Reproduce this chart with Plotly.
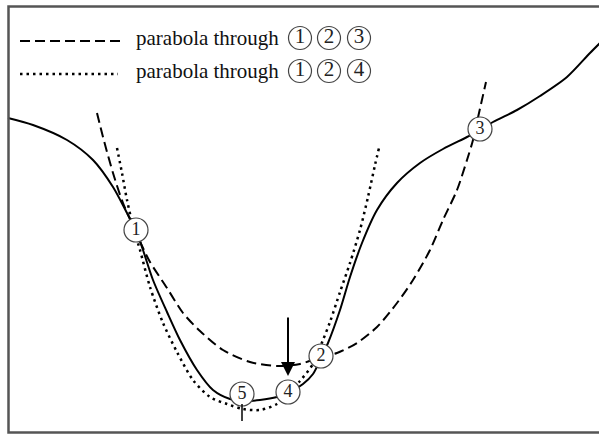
import plotly.graph_objects as go

# Function being minimised (solid curve), sampled along x
curve_x = [8, 33, 67, 93, 113, 127, 136, 143, 153, 167, 180, 197, 213, 230, 245, 260, 277,
           290, 303, 313, 321, 328, 340, 350, 362, 377, 397, 420, 443, 467, 480, 493, 517,
           540, 567, 590, 600]
curve_y = [316, 309, 294, 274, 247, 221, 204, 184, 154, 122, 94, 64, 44, 35, 33, 34, 37,
           42, 50, 60, 76, 91, 124, 157, 191, 224, 251, 271, 285, 297, 304, 312, 324,
           338, 357, 381, 391]

# Parabola through points 1, 2, 3 (dashed)
para123_x = [97, 103, 113, 123, 143, 150, 167, 183, 200, 223, 250, 277, 300, 321, 337, 357,
             377, 397, 413, 430, 443, 457, 467, 473, 479, 486]
para123_y = [321, 297, 261, 231, 186, 172, 146, 121, 103, 84, 72, 68, 70, 77, 81, 91,
             107, 131, 154, 184, 214, 244, 274, 294, 321, 352]

# Parabola through points 1, 2, 4 (dotted)
para124_x = [117, 122, 127, 134, 140, 150, 163, 177, 193, 210, 227, 243, 260, 277, 288, 300,
             313, 318, 323, 330, 340, 350, 360, 368, 375, 379]
para124_y = [286, 261, 234, 204, 184, 147, 111, 82, 54, 37, 30, 25, 24, 30, 40, 53,
             70, 82, 94, 112, 142, 171, 204, 237, 269, 286]

# Numbered evaluation points
pt_x = [136, 321, 480, 288, 242]
pt_y = [204, 78, 305, 42, 40]
pt_labels = ["1", "2", "3", "4", "5"]

legend_texts = ["parabola through", "parabola through"]
legend_points = [["1", "2", "3"], ["1", "2", "4"]]

W, H = 599, 434
SERIF = "Liberation Serif, Times New Roman, serif"
DASH = "10px,5px"
DOT = "2.5px,4px"

fig = go.Figure()

fig.add_trace(go.Scatter(x=curve_x, y=curve_y, mode="lines",
                         line=dict(color="black", width=2, shape="spline", smoothing=0.8),
                         hoverinfo="skip"))
fig.add_trace(go.Scatter(x=para123_x, y=para123_y, mode="lines",
                         line=dict(color="black", width=2, dash=DASH, shape="spline", smoothing=0.8),
                         hoverinfo="skip"))
fig.add_trace(go.Scatter(x=para124_x, y=para124_y, mode="lines",
                         line=dict(color="black", width=2.5, dash=DOT, shape="spline", smoothing=0.8),
                         hoverinfo="skip"))

# circled point markers
fig.add_trace(go.Scatter(x=pt_x, y=pt_y, mode="markers+text", text=pt_labels,
                         textposition="middle center",
                         textfont=dict(family=SERIF, size=18, color="#222"),
                         marker=dict(size=24, color="white", line=dict(color="#444", width=1.2)),
                         hoverinfo="skip"))

# legend rows
leg_rows_y = [396, 363]
leg_styles = [dict(dash=DASH, width=2), dict(dash=DOT, width=2.5)]
leg_line_end = [125, 118]
circle_x = [300, 329, 359]
for row_y, text, labels, style, x_end in zip(leg_rows_y, legend_texts, legend_points,
                                              leg_styles, leg_line_end):
    fig.add_trace(go.Scatter(x=[20, x_end], y=[row_y - 3, row_y - 3], mode="lines",
                             line=dict(color="black", **style), hoverinfo="skip"))
    fig.add_annotation(x=134, y=row_y, text=text, showarrow=False, xanchor="left",
                       yanchor="middle", font=dict(family=SERIF, size=21, color="#111"))
    fig.add_trace(go.Scatter(x=circle_x, y=[row_y] * 3, mode="markers+text", text=labels,
                             textposition="middle center",
                             textfont=dict(family=SERIF, size=21, color="#222"),
                             marker=dict(size=23, color="white",
                                         line=dict(color="#444", width=1.2)),
                             hoverinfo="skip"))

# arrow pointing at the new point 4
fig.add_annotation(x=pt_x[3], y=pt_y[3] + 16, ax=0, ay=-60, text="", showarrow=True,
                   arrowhead=2, arrowsize=1.4, arrowwidth=2, arrowcolor="black", standoff=0)

# small tick below point 5
fig.add_shape(type="line", x0=pt_x[4], x1=pt_x[4], y0=13, y1=30,
              line=dict(color="black", width=1.5))

# frame
fig.add_shape(type="path", path=f"M {W + 5},427.5 L 8.5,427.5 L 8.5,1.5 L {W + 5},1.5",
              line=dict(color="#555", width=2.5))

fig.update_xaxes(range=[0, W], visible=False, fixedrange=True)
fig.update_yaxes(range=[0, H], visible=False, fixedrange=True)
fig.update_layout(width=W, height=H, margin=dict(l=0, r=0, t=0, b=0),
                  plot_bgcolor="white", paper_bgcolor="white", showlegend=False)

fig.write_html("out.html")
